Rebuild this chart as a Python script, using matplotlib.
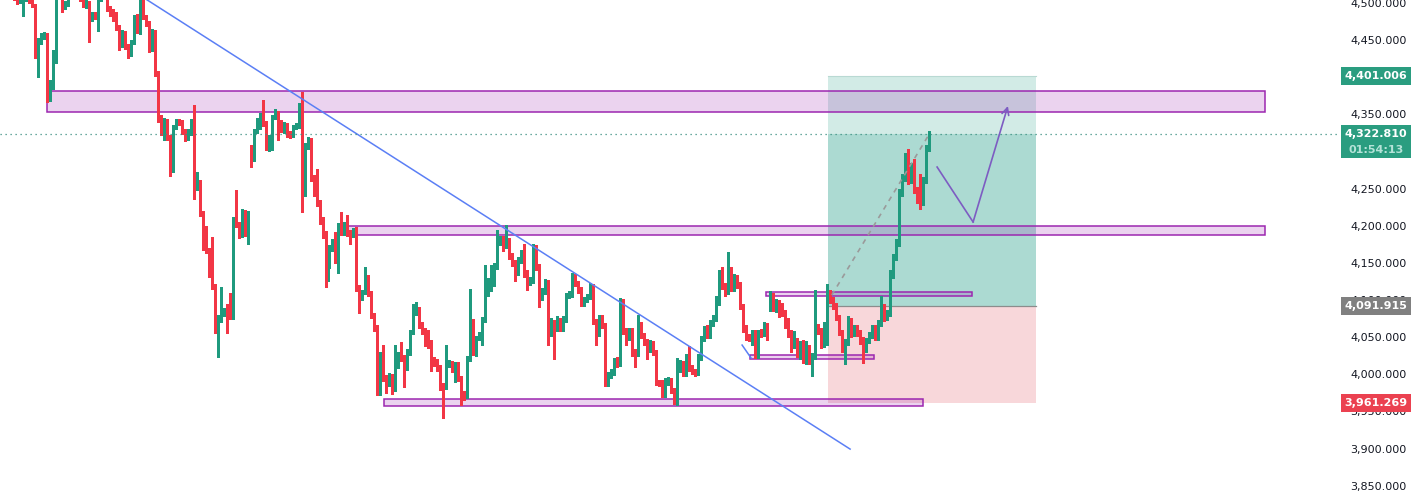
import matplotlib
matplotlib.use("Agg")
import matplotlib.pyplot as plt
import matplotlib.transforms as mtransforms
from matplotlib.patches import Rectangle

# --- candle data (15m style bars) ---
first_open = 4520
gap_opens = {83: 4300, 256: 4088}   # bars that open with a gap

closes = [
    4517, 4515, 4512, 4510, 4508, 4501, 4504, 4505, 4507, 4503,
    4497, 4436, 4450, 4455, 4457, 4372, 4387, 4432, 4510, 4514,
    4496, 4498, 4508, 4512, 4515, 4510, 4506, 4496, 4501, 4480,
    4484, 4482, 4507, 4514, 4508, 4492, 4488, 4484, 4467, 4443,
    4459, 4442, 4432, 4447, 4481, 4462, 4507, 4481, 4473, 4459,
    4462, 4405, 4344, 4326, 4341, 4319, 4287, 4333, 4340, 4339,
    4327, 4318, 4325, 4341, 4251, 4259, 4217, 4173, 4167, 4144,
    4119, 4069, 4076, 4082, 4084, 4080, 4078, 4210, 4201, 4189,
    4218, 4189, 4217, 4290, 4327, 4333, 4348, 4338, 4306, 4318,
    4346, 4353, 4340, 4329, 4336, 4325, 4322, 4333, 4334, 4358,
    4255, 4307, 4315, 4264, 4245, 4231, 4208, 4189, 4124, 4170,
    4178, 4154, 4200, 4192, 4198, 4190, 4188, 4192, 4116, 4104,
    4111, 4131, 4109, 4080, 4062, 3986, 4006, 3995, 3988, 3995,
    3988, 4011, 4026, 4023, 4010, 4030, 4057, 4084, 4087, 4066,
    4058, 4043, 4041, 4021, 4015, 4008, 3984, 3983, 4014, 4015,
    4007, 4012, 3995, 3975, 3972, 4022, 4070, 4030, 4049, 4053,
    4074, 4116, 4117, 4123, 4146, 4178, 4182, 4175, 4179, 4159,
    4150, 4138, 4154, 4163, 4136, 4124, 4127, 4171, 4144, 4104,
    4112, 4124, 4056, 4070, 4062, 4073, 4062, 4073, 4107, 4108,
    4127, 4123, 4114, 4096, 4101, 4105, 4119, 4072, 4056, 4076,
    4066, 3990, 3999, 4003, 4019, 4015, 4076, 4058, 4050, 4058,
    4030, 4029, 4066, 4053, 4044, 4035, 4042, 4030, 3990, 3988,
    3973, 3990, 3992, 3979, 3964, 4008, 4015, 4002, 4018, 4008,
    4004, 4003, 4023, 4049, 4061, 4053, 4069, 4076, 4096, 4126,
    4119, 4111, 4131, 4116, 4131, 4120, 4092, 4061, 4050, 4049,
    4056, 4026, 4057, 4056, 4066, 4050, 4100, 4089, 4096, 4087,
    4083, 4073, 4056, 4041, 4045, 4029, 4037, 4025, 4037, 4019,
    4025, 4065, 4060, 4044, 4068, 4111, 4100, 4093, 4077, 4057,
    4038, 4044, 4073, 4056, 4062, 4056, 4046, 4035, 4046, 4053,
    4062, 4050, 4069, 4091, 4076, 4082, 4136, 4158, 4178, 4245,
    4266, 4292, 4262, 4278, 4249, 4239, 4231, 4262, 4305, 4322.81,
]

highs = [
    4522, 4519, 4517, 4513, 4511, 4509, 4506, 4507, 4510, 4509,
    4505, 4499, 4453, 4460, 4461, 4459, 4396, 4436, 4512, 4518,
    4516, 4503, 4510, 4515, 4518, 4517, 4512, 4508, 4504, 4503,
    4488, 4487, 4510, 4517, 4516, 4510, 4496, 4492, 4487, 4470,
    4463, 4462, 4445, 4450, 4484, 4485, 4510, 4509, 4484, 4476,
    4465, 4464, 4408, 4349, 4345, 4344, 4322, 4336, 4344, 4343,
    4342, 4330, 4330, 4344, 4362, 4272, 4262, 4220, 4200, 4170,
    4185, 4122, 4080, 4118, 4089, 4094, 4110, 4212, 4248, 4205,
    4222, 4221, 4220, 4308, 4330, 4345, 4352, 4369, 4341, 4322,
    4349, 4357, 4355, 4342, 4340, 4338, 4328, 4336, 4338, 4365,
    4380, 4312, 4320, 4318, 4268, 4276, 4235, 4212, 4193, 4174,
    4182, 4192, 4204, 4219, 4205, 4214, 4194, 4197, 4198, 4120,
    4114, 4144, 4134, 4112, 4083, 4066, 4030, 4040, 3999, 4002,
    4001, 4040, 4030, 4043, 4026, 4034, 4060, 4094, 4097, 4090,
    4070, 4062, 4060, 4046, 4024, 4020, 4012, 3988, 4040, 4019,
    4018, 4016, 4016, 3998, 3978, 4025, 4115, 4074, 4052, 4057,
    4077, 4147, 4130, 4147, 4150, 4194, 4186, 4186, 4201, 4183,
    4163, 4154, 4158, 4167, 4176, 4140, 4131, 4176, 4174, 4148,
    4116, 4128, 4127, 4076, 4073, 4078, 4076, 4078, 4110, 4112,
    4136, 4135, 4126, 4117, 4104, 4108, 4123, 4121, 4075, 4080,
    4080, 4069, 4003, 4007, 4022, 4023, 4103, 4102, 4062, 4062,
    4062, 4034, 4080, 4070, 4056, 4048, 4046, 4045, 4033, 3993,
    3992, 3995, 3996, 3995, 3982, 4022, 4019, 4018, 4027, 4038,
    4012, 4007, 4027, 4052, 4065, 4066, 4073, 4080, 4106, 4141,
    4145, 4123, 4164, 4144, 4135, 4134, 4124, 4095, 4066, 4054,
    4060, 4059, 4060, 4061, 4070, 4069, 4112, 4110, 4101, 4100,
    4096, 4086, 4076, 4060, 4058, 4049, 4045, 4046, 4045, 4040,
    4029, 4114, 4068, 4063, 4071, 4122, 4113, 4104, 4096, 4080,
    4060, 4048, 4078, 4076, 4066, 4066, 4059, 4050, 4049, 4057,
    4066, 4066, 4073, 4105, 4095, 4086, 4140, 4162, 4182, 4250,
    4270, 4298, 4303, 4284, 4290, 4252, 4270, 4266, 4308, 4327,
]

lows = [
    4514, 4512, 4509, 4507, 4504, 4499, 4500, 4482, 4503, 4500,
    4494, 4426, 4400, 4445, 4451, 4366, 4368, 4384, 4419, 4506,
    4488, 4492, 4496, 4505, 4509, 4507, 4503, 4494, 4493, 4447,
    4476, 4478, 4462, 4503, 4505, 4489, 4482, 4475, 4463, 4436,
    4440, 4438, 4426, 4429, 4444, 4459, 4458, 4478, 4469, 4434,
    4435, 4401, 4340, 4322, 4315, 4316, 4267, 4272, 4330, 4335,
    4324, 4314, 4316, 4322, 4236, 4248, 4213, 4168, 4163, 4131,
    4115, 4056, 4024, 4071, 4079, 4056, 4074, 4074, 4198, 4184,
    4185, 4186, 4175, 4279, 4287, 4325, 4330, 4334, 4302, 4300,
    4302, 4343, 4316, 4326, 4325, 4320, 4318, 4319, 4330, 4331,
    4218, 4240, 4303, 4260, 4240, 4226, 4203, 4184, 4118, 4143,
    4166, 4150, 4136, 4188, 4188, 4186, 4175, 4185, 4112, 4082,
    4100, 4108, 4105, 4076, 4058, 3972, 3972, 3991, 3975, 3984,
    3974, 3977, 4008, 4018, 3983, 4006, 4026, 4054, 4080, 4062,
    4054, 4038, 4036, 4004, 4011, 4004, 3979, 3941, 3980, 4010,
    4003, 3990, 3991, 3959, 3966, 3968, 4018, 4026, 4025, 4046,
    4040, 4070, 4105, 4112, 4119, 4142, 4174, 4166, 4170, 4155,
    4146, 4126, 4134, 4150, 4131, 4114, 4120, 4123, 4140, 4090,
    4100, 4108, 4039, 4052, 4021, 4058, 4058, 4058, 4070, 4103,
    4104, 4119, 4110, 4092, 4092, 4098, 4102, 4068, 4039, 4052,
    4062, 3984, 3984, 3995, 3999, 4010, 4011, 4054, 4040, 4046,
    4025, 4010, 4025, 4049, 4040, 4020, 4030, 4026, 3986, 3984,
    3969, 3969, 3986, 3975, 3960, 3959, 4003, 3998, 3998, 4004,
    4000, 3998, 3999, 4019, 4045, 4049, 4049, 4065, 4072, 4093,
    4115, 4106, 4108, 4112, 4112, 4116, 4088, 4057, 4046, 4045,
    4040, 4022, 4022, 4050, 4052, 4046, 4085, 4085, 4084, 4077,
    4078, 4062, 4050, 4030, 4036, 4024, 4020, 4015, 4014, 4014,
    3998, 4020, 4054, 4035, 4037, 4040, 4096, 4088, 4073, 4053,
    4030, 4014, 4040, 4050, 4052, 4051, 4041, 4015, 4030, 4042,
    4049, 4046, 4046, 4065, 4072, 4073, 4078, 4130, 4154, 4173,
    4240, 4260, 4256, 4258, 4244, 4230, 4222, 4228, 4258, 4300,
]

# --- drawings (bar index, price) ---
zone_top = (15.1, 421.0, 4352.7, 4380.9)
zone_mid = (113.8, 421.0, 4187.1, 4199.6)
zone_low = (127.3, 307.0, 3957.3, 3966.8)
box_upper = (254.7, 323.3, 4105.0, 4110.4)
box_lower = (249.3, 290.7, 4020.2, 4026.0)

pos_x = (275.3, 344.7)
target_price = 4401.006
entry_price = 4091.915
stop_price = 3961.269
last_price = 4322.81
countdown = "01:54:13"

trend_x = [43.3, 282.7]
trend_y = [4517.0, 3899.4]
small_trend_x = [246.7, 249.7]
small_trend_y = [4039.4, 4021.9]
path_x = [311.7, 323.7, 335.3]
path_y = [4279.0, 4205.0, 4361.1]
dash_x = [276.6, 309.0]
dash_y = [4106.7, 4322.81]

# scale labels; 4,400 and 4,300 sit fully under the price badges
yticks = [3850, 3900, 3950, 4000, 4050, 4100, 4150, 4200, 4250, 4350, 4450, 4500]

UP = "#1f9a7e"
DOWN = "#f23645"
PURPLE = "#9c27b0"

opens = [first_open] + closes[:-1]
for k, v in gap_opens.items():
    opens[k] = v

fig = plt.figure(figsize=(14.13, 4.93), dpi=100)
fig.patch.set_facecolor("white")
ax = fig.add_axes([0, 0, 1337 / 1413, 1])
ax.set_xlim(-2 / 3, 445)
ax.set_ylim(3840.3, 4503.8)
for s in ax.spines.values():
    s.set_visible(False)
ax.tick_params(axis="x", bottom=False, labelbottom=False)
ax.yaxis.tick_right()
ax.set_yticks(yticks)
ax.set_yticklabels([f"{t:,.3f}" for t in yticks])
ax.tick_params(axis="y", length=0, pad=9.4, labelsize=8, labelcolor="#131722")

# position box
x0, x1 = pos_x
ax.add_patch(Rectangle((x0, last_price), x1 - x0, target_price - last_price,
                       facecolor="#d2ebe6", edgecolor="none", zorder=1))
ax.add_patch(Rectangle((x0, entry_price), x1 - x0, last_price - entry_price,
                       facecolor="#acdad2", edgecolor="none", zorder=1))
ax.add_patch(Rectangle((x0, stop_price), x1 - x0, entry_price - stop_price,
                       facecolor="#f8d7da", edgecolor="none", zorder=1))
ax.plot([x0, x1], [target_price, target_price], color="#b9d9d3", lw=0.8, zorder=1)
ax.plot([x0, x1], [entry_price, entry_price], color="#8c8c8c", lw=0.9, zorder=2)

# zones
for (a, b, lo, hi) in [zone_top, zone_mid, zone_low, box_upper, box_lower]:
    ax.add_patch(Rectangle((a, lo), b - a, hi - lo, facecolor=(0.61, 0.15, 0.69, 0.2),
                           edgecolor=PURPLE, lw=1.1, zorder=2))

# candles
xs = list(range(len(closes)))
cols = [UP if c >= o else DOWN for o, c in zip(opens, closes)]
ax.vlines(xs, lows, highs, colors=cols, lw=0.8, zorder=3, antialiased=False)
bottoms = [min(o, c) for o, c in zip(opens, closes)]
heights = [max(abs(c - o), 1.3) for o, c in zip(opens, closes)]
ax.bar(xs, heights, bottom=bottoms, width=0.62, color=cols, linewidth=0, zorder=3,
       antialiased=False)

# lines
ax.plot(trend_x, trend_y, color="#5b7ff5", lw=1.1, zorder=4)
ax.plot(small_trend_x, small_trend_y, color="#5b7ff5", lw=1.1, zorder=4)
ax.axhline(last_price, color="#3a8f80", lw=0.9, ls=(0, (1, 3)), zorder=4)
ax.plot(dash_x, dash_y, color="#9a9a9a", lw=1.2, ls=(0, (3, 3)), zorder=4)
ax.plot(path_x[:2], path_y[:2], color="#7d5cc2", lw=1.2, zorder=4)
ax.annotate("", xy=(path_x[2], path_y[2]), xytext=(path_x[1], path_y[1]),
            arrowprops=dict(arrowstyle="->,head_length=0.5,head_width=0.25",
                            color="#7d5cc2", lw=1.2, shrinkA=0, shrinkB=0), zorder=4)

# price badges on the scale
trans = mtransforms.blended_transform_factory(fig.transFigure, ax.transData)
bx0 = 1341 / 1413
bw = 70 / 1413
tx = 1376 / 1413
half = 12.2


def badge(price, text, color, lo=None, hi=None):
    lo = price - half if lo is None else lo
    hi = price + half if hi is None else hi
    ax.add_patch(Rectangle((bx0, lo), bw, hi - lo, transform=trans, facecolor=color,
                           edgecolor="none", clip_on=False, zorder=6))
    ax.text(tx, price, text, transform=trans, ha="center", va="center", color="white",
            fontsize=8, fontweight="bold", clip_on=False, zorder=7)


badge(target_price, f"{target_price:,.3f}", "#2a9d80")
badge(last_price, f"{last_price:,.3f}", "#2a9d80", lo=4291.1, hi=4335.5)
ax.text(tx, 4302.5, countdown, transform=trans, ha="center", va="center",
        color="#b5e3d8", fontsize=8, fontweight="bold", clip_on=False, zorder=7)
badge(entry_price, f"{entry_price:,.3f}", "#808080")
badge(stop_price, f"{stop_price:,.3f}", "#eb4150")

fig.savefig("out.png", dpi=100, facecolor="white")
